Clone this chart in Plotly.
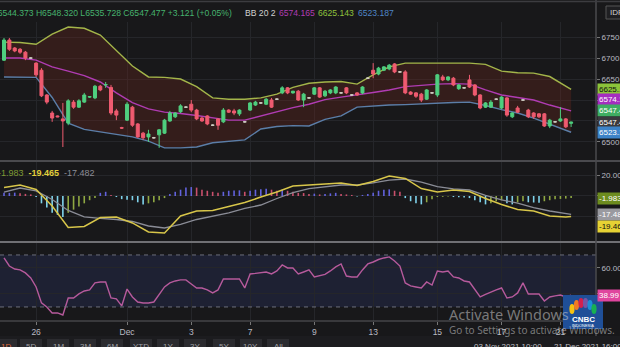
import plotly.graph_objects as go

# ---------------- hourly OHLC bars ----------------
opens = [
    6695, 6743, 6724, 6721, 6714, 6700, 6688, 6671, 6612, 6569,
    6562, 6555, 6545, 6595, 6583, 6595, 6607, 6605, 6633, 6636,
    6630, 6574, 6534, 6552, 6583, 6543, 6521, 6512, 6510, 6517,
    6521, 6550, 6560, 6572, 6583, 6590, 6576, 6557, 6562, 6540,
    6555, 6548, 6576, 6574, 6567, 6548, 6576, 6588, 6593, 6590,
    6600, 6602, 6617, 6629, 6617, 6621, 6600, 6605, 6614, 6629,
    6610, 6617, 6617, 6617, 6629, 6612, 6617, 6617, 6652, 6671,
    6662, 6671, 6674, 6686, 6667, 6667, 6619, 6617, 6614, 6602,
    6617, 6612, 6655, 6648, 6652, 6627, 6629, 6648, 6636, 6612,
    6583, 6583, 6602, 6581, 6605, 6560, 6581, 6600, 6576, 6569,
    6567, 6567, 6538, 6548, 6550, 6555, 6544.373,
]
highs = [
    6748, 6748, 6726, 6724, 6717, 6702, 6690, 6676, 6614, 6574,
    6563, 6593, 6602, 6600, 6602, 6617, 6609, 6636, 6636, 6643,
    6636, 6579, 6536, 6595, 6586, 6545, 6524, 6529, 6512, 6531,
    6555, 6574, 6571, 6590, 6585, 6600, 6579, 6560, 6564, 6542,
    6557, 6581, 6578, 6579, 6578, 6550, 6595, 6598, 6595, 6605,
    6605, 6604, 6633, 6631, 6622, 6624, 6617, 6607, 6631, 6631,
    6624, 6626, 6633, 6619, 6631, 6614, 6619, 6633, 6654, 6688,
    6679, 6681, 6686, 6688, 6669, 6671, 6621, 6619, 6617, 6626,
    6619, 6662, 6660, 6657, 6655, 6638, 6631, 6660, 6638, 6614,
    6595, 6600, 6604, 6609, 6607, 6571, 6586, 6602, 6579, 6571,
    6569, 6569, 6555, 6550, 6583, 6557, 6548.320,
]
lows = [
    6693, 6717, 6714, 6710, 6695, 6698, 6655, 6607, 6590, 6548,
    6559, 6488, 6540, 6579, 6581, 6593, 6605, 6602, 6621, 6629,
    6564, 6552, 6531, 6550, 6536, 6510, 6505, 6500, 6508, 6486,
    6519, 6548, 6557, 6569, 6581, 6571, 6552, 6548, 6540, 6538,
    6529, 6545, 6569, 6564, 6562, 6546, 6574, 6586, 6591, 6588,
    6581, 6600, 6614, 6614, 6615, 6598, 6583, 6603, 6612, 6605,
    6607, 6614, 6614, 6615, 6614, 6610, 6610, 6614, 6650, 6652,
    6659, 6669, 6671, 6664, 6665, 6614, 6612, 6605, 6595, 6600,
    6615, 6607, 6645, 6645, 6633, 6624, 6627, 6629, 6609, 6578,
    6581, 6581, 6600, 6578, 6560, 6557, 6569, 6598, 6557, 6555,
    6557, 6536, 6533, 6546, 6548, 6533, 6535.728,
]
closes = [
    6743, 6721, 6717, 6714, 6700, 6700, 6660, 6610, 6595, 6557,
    6560, 6550, 6598, 6583, 6598, 6612, 6608, 6633, 6624, 6637,
    6569, 6564, 6533, 6590, 6540, 6512, 6510, 6519, 6510, 6529,
    6552, 6569, 6569, 6586, 6583, 6576, 6555, 6550, 6543, 6540,
    6540, 6576, 6571, 6569, 6576, 6548, 6593, 6595, 6593, 6602,
    6583, 6602, 6629, 6617, 6621, 6600, 6614, 6605, 6629, 6607,
    6621, 6624, 6631, 6617, 6617, 6612, 6612, 6631, 6652, 6662,
    6676, 6679, 6683, 6667, 6667, 6617, 6614, 6609, 6600, 6624,
    6617, 6660, 6648, 6655, 6636, 6636, 6629, 6631, 6612, 6581,
    6593, 6595, 6602, 6607, 6564, 6569, 6571, 6600, 6560, 6560,
    6560, 6538, 6552, 6548, 6555, 6536, 6547.477,
]
bar_index = list(range(len(closes)))

# ---------------- Bollinger Bands (20, 2), every third bar ----------------
bb_index = list(range(0, 106, 3)) + [106]
bb_upper = [
    6738, 6737, 6733, 6757, 6774, 6771, 6755, 6718, 6681, 6655,
    6654, 6650, 6632, 6605, 6602, 6602, 6605, 6614, 6630, 6640,
    6643, 6644, 6638, 6660, 6679, 6688, 6688, 6688, 6688, 6688,
    6685, 6669, 6665, 6664, 6656, 6633, 6625.143,
]
bb_basis = [
    6700, 6700, 6695, 6679, 6669, 6658, 6643, 6617, 6594, 6579,
    6571, 6568, 6563, 6557, 6552, 6552, 6562, 6571, 6582, 6590,
    6601, 6607, 6612, 6618, 6624, 6632, 6635, 6638, 6639, 6638,
    6624, 6612, 6606, 6600, 6588, 6579, 6574.165,
]
bb_lower = [
    6655, 6655, 6654, 6606, 6545, 6530, 6524, 6518, 6512, 6502,
    6486, 6486, 6488, 6498, 6501, 6505, 6531, 6537, 6539, 6538,
    6554, 6562, 6583, 6586, 6588, 6589, 6591, 6592, 6594, 6595,
    6587, 6577, 6569, 6557, 6543, 6529, 6523.187,
]

# ---------------- MACD ----------------
macd_line = [
    8.1, 10.5, 6.2, -9.5, -30.0, -29.0, -20.5, -20.0, -25.7, -34.3,
    -35.2, -19.0, -14.3, -13.8, -10.0, -6.2, -1.0, 3.8, 9.5, 10.5,
    11.4, 12.4, 10.0, 13.8, 19.0, 16.7, 7.1, 3.8, 5.7, 4.3,
    -2.4, -8.1, -12.9, -14.3, -19.0, -20.0, -19.465,
]
macd_signal = [
    3.8, 7.6, 4.8, -3.3, -13.8, -20.0, -21.4, -22.4, -24.3, -28.6,
    -30.5, -27.1, -22.4, -19.0, -16.2, -11.9, -8.6, -2.4, 3.3, 7.1,
    9.0, 10.5, 10.5, 12.4, 15.2, 16.2, 13.3, 9.0, 6.7, 5.7,
    0.5, -3.8, -6.7, -11.0, -14.3, -16.2, -17.482,
]
macd_hist = [
    3, 3, 3.2, 2.5, 2, 1.5, -1, -7, -11, -16,
    -18, -20, -16, -13, -10, -7, -4, -2, 3, 4,
    1, -1, -3, -3.5, -4, -6, -8, -7, -6, -4,
    -2, 2, 4, 6, 8, 8.5, 8, 6, 5, 4,
    3, 4, 5, 5.2, 5.4, 4, 5, 6, 6.5, 7,
    6, 5, 6, 5, 4, 3, 2.8, 2, 2.2, 1.5,
    2, 2.5, 3, 2, 1.5, 1, -0.5, 1, 2, 3,
    5, 6, 6.3, 5, 4, -2, -5, -7, -8, -6,
    -3, -1, -0.8, -0.5, -1, -1.2, -1.5, -2, -4, -6,
    -8, -7, -5, -4, -7, -8, -6, -5, -6, -6.2,
    -6.4, -5, -4, -3, -2.8, -2.5, -1.983,
]

# ---------------- RSI (14) ----------------
rsi = [
    67.7, 61.5, 59.2, 58.5, 56.2, 52.3, 45.4, 33.1, 30.0, 25.4,
    25.4, 23.8, 36.9, 36.9, 40.0, 42.3, 43.1, 48.5, 49.2, 49.2,
    36.9, 36.2, 30.8, 43.8, 37.7, 33.8, 33.1, 33.1, 33.8, 39.2,
    45.4, 48.5, 50.0, 50.8, 50.8, 47.7, 44.6, 44.6, 43.1, 40.8,
    43.1, 51.5, 51.5, 51.9, 51.5, 44.6, 55.4, 55.8, 56.2, 56.9,
    55.4, 57.7, 62.3, 60.0, 60.0, 55.4, 56.9, 58.5, 53.1, 53.8,
    55.0, 57.7, 60.8, 63.1, 53.8, 53.1, 53.1, 58.5, 63.1, 64.6,
    66.5, 67.7, 68.5, 65.4, 61.5, 48.5, 46.2, 45.4, 44.6, 49.2,
    46.9, 57.7, 56.9, 57.7, 53.1, 52.3, 50.0, 49.2, 43.8, 37.7,
    39.6, 41.5, 43.1, 44.6, 36.9, 37.7, 40.8, 48.5, 40.0, 40.0,
    40.0, 34.6, 37.7, 38.5, 39.2, 37.7, 38.99,
]

# ---------------- time axis ----------------
day_ticks = [6, 23, 35, 46, 58, 69, 81, 93, 104]
day_labels = ["26", "Dec", "3", "7", "9", "13", "15", "17", "21"]

# ---------------- geometry / style ----------------
W, H = 620, 347
M_L, M_R, M_T, M_B = 0, 24, 22, 26
PW, PH = W - M_L - M_R, H - M_T - M_B


def px(x):
    return x / PW


def py(y):
    return (H - M_B - y) / PH


BG = "#18181a"
GRID = "#25262a"
TXT = "#b8bac2"
UP = "#4fcf7f"
DOWN = "#ef5b70"
DOJI = "#cfcfc4"
C_UPPER = "#a3b54a"
C_BASIS = "#b03cb3"
C_LOWER = "#5b7ea8"
C_MACD = "#d8c64a"
C_SIGNAL = "#8a8c96"
C_RSI = "#b65a9c"
FONT = "Liberation Sans, Arial, sans-serif"

X_RANGE = [-0.75, 110.65]
P_RANGE = [6457, 6786]
M_RANGE = [-42.9, 32.4]
R_RANGE = [19.2, 79.2]

fig = go.Figure()

# Bollinger band fill + lines (base price axis, under the candles)
fig.add_trace(go.Scatter(x=bb_index, y=bb_upper, mode="lines",
                         line=dict(color=C_UPPER, width=1.4),
                         xaxis="x", yaxis="y", hoverinfo="skip"))
fig.add_trace(go.Scatter(x=bb_index, y=bb_lower, mode="lines",
                         line=dict(color=C_LOWER, width=1.4),
                         fill="tonexty", fillcolor="rgba(112,40,30,0.32)",
                         xaxis="x", yaxis="y", hoverinfo="skip"))
fig.add_trace(go.Scatter(x=bb_index, y=bb_basis, mode="lines",
                         line=dict(color=C_BASIS, width=1.4),
                         xaxis="x", yaxis="y", hoverinfo="skip"))

# candles (overlay axis so they sit above the band)
groups = {"up": [], "down": [], "flat": []}
for i in bar_index:
    if closes[i] > opens[i]:
        groups["up"].append(i)
    elif closes[i] < opens[i]:
        groups["down"].append(i)
    else:
        groups["flat"].append(i)

for key, col in (("up", UP), ("down", DOWN), ("flat", DOJI)):
    idx = groups[key]
    fig.add_trace(go.Candlestick(
        x=[bar_index[i] for i in idx],
        open=[opens[i] for i in idx], high=[highs[i] for i in idx],
        low=[lows[i] for i in idx], close=[closes[i] for i in idx],
        increasing=dict(line=dict(color=col, width=1), fillcolor=col),
        decreasing=dict(line=dict(color=col, width=1), fillcolor=col),
        whiskerwidth=0, xaxis="x", yaxis="y4", hoverinfo="skip"))

# MACD histogram colours follow sign and direction
H_UP_GROW, H_UP_FALL = "#6262dc", "#c9506c"
H_DN_FALL, H_DN_GROW = "#7fd2ea", "#8fa843"
hist_colors = []
prev = 0.0
for v in macd_hist:
    if v >= 0:
        hist_colors.append(H_UP_GROW if v >= prev else H_UP_FALL)
    else:
        hist_colors.append(H_DN_FALL if v < prev else H_DN_GROW)
    prev = v

fig.add_trace(go.Bar(x=bar_index, y=macd_hist, marker=dict(color=hist_colors, line=dict(width=0)),
                     width=0.3, xaxis="x2", yaxis="y2", hoverinfo="skip"))
fig.add_trace(go.Scatter(x=bb_index, y=macd_signal, mode="lines",
                         line=dict(color=C_SIGNAL, width=1.3),
                         xaxis="x2", yaxis="y2", hoverinfo="skip"))
fig.add_trace(go.Scatter(x=bb_index, y=macd_line, mode="lines",
                         line=dict(color=C_MACD, width=1.5),
                         xaxis="x2", yaxis="y2", hoverinfo="skip"))

# RSI
fig.add_trace(go.Scatter(x=bar_index, y=rsi, mode="lines",
                         line=dict(color=C_RSI, width=1.4),
                         xaxis="x3", yaxis="y3", hoverinfo="skip"))

xcommon = dict(range=X_RANGE, showgrid=True, gridcolor=GRID, gridwidth=1,
               tickmode="array", tickvals=day_ticks, zeroline=False,
               showline=False, fixedrange=True)
ycommon = dict(side="right", showgrid=True, gridcolor=GRID, zeroline=False,
               ticks="outside", ticklen=3, tickcolor="#777",
               tickfont=dict(size=8, color=TXT, family=FONT),
               automargin=False, showline=False, fixedrange=True)

fig.update_layout(
    width=W, height=H,
    margin=dict(l=M_L, r=M_R, t=M_T, b=M_B),
    paper_bgcolor=BG, plot_bgcolor=BG,
    showlegend=False, hovermode=False, boxgap=0.2,
    font=dict(family=FONT, color=TXT, size=8),
    xaxis=dict(xcommon, anchor="y", showticklabels=False, ticks="",
               rangeslider=dict(visible=False)),
    xaxis2=dict(xcommon, anchor="y2", showticklabels=False, ticks=""),
    xaxis3=dict(xcommon, anchor="y3", ticktext=day_labels, ticks="outside",
                ticklen=3, tickcolor="#777",
                tickfont=dict(size=8.5, color=TXT, family=FONT)),
    yaxis=dict(ycommon, domain=[py(160), 1], range=P_RANGE, anchor="x",
               tickvals=[6500, 6550, 6600, 6650, 6700, 6750], tickformat=".3f"),
    yaxis4=dict(overlaying="y", range=P_RANGE, anchor="x", visible=False,
                fixedrange=True),
    yaxis2=dict(ycommon, domain=[py(241), py(162)], range=M_RANGE, anchor="x2",
                tickvals=[-20, 0, 20], tickformat=".3f"),
    yaxis3=dict(ycommon, domain=[0, py(243)], range=R_RANGE, anchor="x3",
                tickvals=[40, 60], tickformat=".3f"),
)

shapes = []
# RSI 30-70 zone
shapes.append(dict(type="rect", xref="x3 domain", yref="y3", x0=0, x1=1, y0=30, y1=70,
                   fillcolor="#1e2133", line=dict(width=0), layer="below"))
for lvl in (30, 70):
    shapes.append(dict(type="line", xref="x3 domain", yref="y3", x0=0, x1=1, y0=lvl, y1=lvl,
                       line=dict(color="#6c6f7c", width=1, dash="4px,4px"), layer="above"))
# pane separators, axis borders
shapes.append(dict(type="line", xref="paper", yref="paper", x0=0, x1=W / PW,
                   y0=py(161), y1=py(161), line=dict(color="#4a4a4e", width=2)))
shapes.append(dict(type="line", xref="paper", yref="paper", x0=0, x1=W / PW,
                   y0=py(242), y1=py(242), line=dict(color="#707074", width=2)))
shapes.append(dict(type="line", xref="paper", yref="paper", x0=0, x1=1,
                   y0=0, y1=0, line=dict(color="#5a5a5e", width=1)))
shapes.append(dict(type="line", xref="paper", yref="paper", x0=1, x1=1,
                   y0=py(336), y1=py(0), line=dict(color="#4a4a4e", width=1.5)))
shapes.append(dict(type="line", xref="paper", yref="paper", x0=0, x1=W / PW,
                   y0=py(1.5), y1=py(1.5), line=dict(color="#3c3c40", width=1.5)))
# bottom toolbar strip
shapes.append(dict(type="rect", xref="paper", yref="paper", x0=0, x1=W / PW,
                   y0=py(347), y1=py(336), fillcolor="#1c1c1f", line=dict(width=0)))
toolbar = ["1D", "5D", "1M", "3M", "6M", "YTD", "1Y", "3Y", "5Y", "10Y", "All"]
tb_x = [6, 31, 58, 85, 112, 141, 168, 195, 224, 251, 278]
for lab, cx in zip(toolbar, tb_x):
    shapes.append(dict(type="rect", xref="paper", yref="paper",
                       x0=px(cx - 11), x1=px(cx + 11), y0=py(350), y1=py(339),
                       fillcolor="#2b2b2f", line=dict(width=0)))
# IDR button
shapes.append(dict(type="rect", xref="paper", yref="paper", x0=px(606), x1=px(624),
                   y0=py(19), y1=py(6), fillcolor="#1f1f22",
                   line=dict(color="#555", width=1)))
# CNBC badge
shapes.append(dict(type="rect", xref="paper", yref="paper", x0=px(563), x1=px(603),
                   y0=py(329), y1=py(295), fillcolor="#1f4f98", line=dict(width=0)))
feathers = ["#f5c211", "#f07a23", "#d3204d", "#7556a6", "#1c8fd6", "#18b052"]
fx = [572, 576.5, 581, 585.5, 590, 594]
fy = [309, 305, 303, 303, 305, 309]
for c, cx, cy in zip(feathers, fx, fy):
    shapes.append(dict(type="circle", xref="paper", yref="paper",
                       x0=px(cx - 2.6), x1=px(cx + 2.6), y0=py(cy + 5), y1=py(cy - 5),
                       fillcolor=c, line=dict(width=0)))
fig.update_layout(shapes=shapes)

ann = []


def head(x, text, color, anchor="left"):
    ann.append(dict(xref="paper", yref="paper", x=px(x), y=py(13), text=text,
                    showarrow=False, xanchor=anchor, yanchor="middle",
                    font=dict(size=8.6, color=color, family=FONT)))


head(234, "O6544.373 H6548.320 L6535.728 C6547.477 +3.121 (+0.05%)", "#46b36e", "right")
head(243, "BB 20 2", "#d0d0d0")
head(277, "6574.165", C_BASIS)
head(316, "6625.143", "#8fc23c")
head(356, "6523.187", "#4f86c6")
ann.append(dict(xref="paper", yref="paper", x=px(608), y=py(12.5), text="IDR",
                showarrow=False, xanchor="left", yanchor="middle",
                font=dict(size=8, color="#d0d0d0", family=FONT)))


def tag(yref, val, text, bg, fg, shift=0):
    ann.append(dict(xref="paper", yref=yref, x=1.0, y=val, text=text, showarrow=False,
                    xanchor="left", yanchor="middle", yshift=shift, xshift=1,
                    bgcolor=bg, borderpad=1,
                    font=dict(size=8, color=fg, family=FONT)))


tag("y", bb_upper[-1], "6625.143", "#8cc43a", "#101010")
tag("y", bb_basis[-1], "6574.165", "#a52dbf", "#ffffff", 11)
tag("y", closes[-1], "6547.477", "#3fae62", "#ffffff", 12)
tag("y", closes[-1], "6547.477", "#3a3a3e", "#ffffff")
tag("y", bb_lower[-1], "6523.187", "#3d83c8", "#ffffff")
tag("y2", macd_hist[-1], "-1.983", "#6d8c1f", "#ffffff")
tag("y2", macd_signal[-1], "-17.482", "#9a9aa0", "#ffffff")
tag("y2", macd_line[-1], "-19.465", "#e6d234", "#101010", -10)
tag("y3", rsi[-1], "38.99", "#e0459e", "#ffffff")

# MACD legend line
ann.append(dict(xref="paper", yref="paper", x=px(-4), y=py(173), xanchor="left",
                yanchor="middle", showarrow=False,
                text="<span style='color:#7e9a34'>-1.983</span>  "
                     "<span style='color:#e2cf3c'><b>-19.465</b></span>  "
                     "<span style='color:#8c8e96'>-17.482</span>",
                font=dict(size=9, family=FONT)))

for lab, cx in zip(toolbar, tb_x):
    ann.append(dict(xref="paper", yref="paper", x=px(cx), y=py(346), text=lab,
                    showarrow=False, xanchor="center", yanchor="middle",
                    font=dict(size=8, color="#e06a3c" if lab == "1D" else "#a0a0a6",
                              family=FONT)))
ann.append(dict(xref="paper", yref="paper", x=px(472), y=py(346),
                text="03 Nov 2021 10:00 \u2014 21 Dec 2021 16:00", showarrow=False,
                xanchor="left", yanchor="middle",
                font=dict(size=8, color="#c0c0c4", family=FONT)))

# CNBC badge text
ann.append(dict(xref="paper", yref="paper", x=px(583), y=py(319), text="<b>CNBC</b>",
                showarrow=False, xanchor="center", yanchor="middle",
                font=dict(size=8, color="#ffffff", family=FONT)))
ann.append(dict(xref="paper", yref="paper", x=px(583), y=py(325), text="INDONESIA",
                showarrow=False, xanchor="center", yanchor="middle",
                font=dict(size=4, color="#ffffff", family=FONT)))

# desktop watermark
ann.append(dict(xref="paper", yref="paper", x=px(447), y=py(314), text="Activate Windows",
                showarrow=False, xanchor="left", yanchor="middle",
                font=dict(size=14.5, color="rgba(205,205,205,0.55)", family="Noto Sans, sans-serif")))
ann.append(dict(xref="paper", yref="paper", x=px(447), y=py(330),
                text="Go to Settings to activate Windows.", showarrow=False,
                xanchor="left", yanchor="middle",
                font=dict(size=10, color="rgba(205,205,205,0.55)", family="Noto Sans, sans-serif")))

fig.update_layout(annotations=ann)

fig.write_html("out.html", config={"displayModeBar": False, "staticPlot": True})
